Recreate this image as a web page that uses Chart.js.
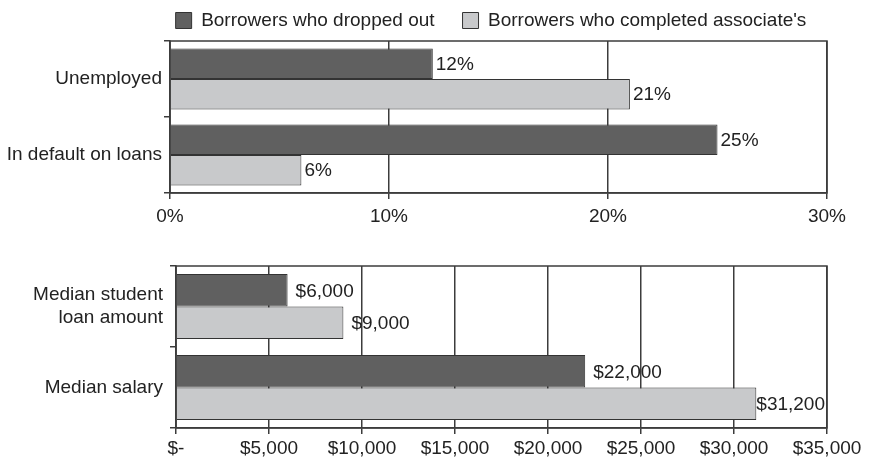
<!DOCTYPE html>
<html><head><meta charset="utf-8">
<script src="https://cdn.jsdelivr.net/npm/chart.js@4"></script>
<style>
html,body{margin:0;padding:0;background:#fff;width:870px;height:458px;overflow:hidden}
.box{position:absolute;left:0;width:870px}
</style>
</head><body>
<div class="box" style="top:0;height:230px"><canvas id="c1"></canvas></div>
<div class="box" style="top:240px;height:218px"><canvas id="c2"></canvas></div>
<script>
// ---- data ----
const seriesNames = ['Borrowers who dropped out', "Borrowers who completed associate's"];
const pctCategories = ['Unemployed', 'In default on loans'];
const pctDropped = [12, 25];
const pctCompleted = [21, 6];
const pctTicks = ['0%', '10%', '20%', '30%'];
const usdCategories = [['Median student', 'loan amount'], 'Median salary'];
const usdDropped = [6000, 22000];
const usdCompleted = [9000, 31200];
const usdTicks = ['$-', '$5,000', '$10,000', '$15,000', '$20,000', '$25,000', '$30,000', '$35,000'];

// ---- styles ----
const DARK = '#606060', LIGHT = '#c8c9cb', EDGE = '#333333', LINE = '#3c3c3c', TXT = '#222222';
Chart.defaults.font.family = '"Liberation Sans", Arial, sans-serif';
Chart.defaults.font.size = 19;
Chart.defaults.color = TXT;

const legendFix = {
  id: 'legendFix',
  beforeLayout(chart, args, opts) {
    const lg = chart.legend;
    if (lg && !lg._patched && opts.height) {
      const orig = lg.fit;
      lg.fit = function () {
        const mw = this.maxWidth;
        this.maxWidth = 5000;
        orig.call(this);
        this.maxWidth = mw;
        this.width = mw;
        this.height = opts.height;
      };
      lg._patched = true;
    }
  },
  afterLayout(chart, args, opts) {
    const lg = chart.legend;
    if (lg && opts.height) {
      lg.left = opts.left;
      lg.right = chart.width;
      lg.width = lg.right - lg.left;
    }
  }
};

const frame = {
  id: 'frame',
  afterDatasetsDraw(chart) {
    const a = chart.chartArea, ctx = chart.ctx;
    ctx.save();
    ctx.strokeStyle = LINE; ctx.lineWidth = 1.5;
    ctx.strokeRect(a.left, a.top, a.right - a.left, a.bottom - a.top);
    ctx.restore();
  }
};

const barLabels = {
  id: 'barLabels',
  afterDraw(chart, args, opts) {
    const ctx = chart.ctx, a = chart.chartArea;
    ctx.save();
    ctx.font = Chart.helpers.toFont(Chart.defaults.font).string;
    ctx.fillStyle = TXT;
    ctx.textAlign = 'left';
    ctx.textBaseline = 'middle';
    chart.data.datasets.forEach((ds, di) => {
      chart.getDatasetMeta(di).data.forEach((el, i) => {
        const t = opts.format(ds.data[i]);
        const w = ctx.measureText(t).width;
        let x = el.x + opts.offset;
        if (x + w > a.right - 2) x = a.right - 2 - w;
        ctx.fillText(t, x, el.y + 1);
      });
    });
    ctx.restore();
  }
};

function makeChart(id, cats, d1, d2, max, step, ticks, fmt, cfg) {
  return new Chart(document.getElementById(id), {
    type: 'bar',
    data: {
      labels: cats,
      datasets: [
        { label: seriesNames[0], data: d1, backgroundColor: DARK, borderColor: EDGE, borderWidth: 1 },
        { label: seriesNames[1], data: d2, backgroundColor: LIGHT, borderColor: EDGE, borderWidth: 1 }
      ]
    },
    options: {
      indexAxis: 'y',
      responsive: true,
      maintainAspectRatio: false,
      animation: false,
      layout: { padding: cfg.padding },
      categoryPercentage: 0.8,
      barPercentage: 1.0,
      plugins: {
        legend: cfg.legend ? {
          display: true, position: 'top', fullSize: false,
          labels: { boxWidth: 16, boxHeight: 16, padding: 28, color: TXT }
        } : { display: false },
        legendFix: { height: cfg.legend ? 58 : 0, left: 112 },
        tooltip: { enabled: false },
        barLabels: { offset: cfg.labelOffset, format: fmt }
      },
      scales: {
        x: {
          min: 0, max: max,
          ticks: { stepSize: step, padding: cfg.xPad, maxRotation: 0, autoSkip: false,
                   callback: (v, i) => ticks[i] },
          grid: { color: LINE, lineWidth: 1.5, tickLength: 6, drawTicks: true },
          border: { color: LINE, width: 1.5 },
          afterFit: s => { s.height = cfg.xHeight; }
        },
        y: {
          ticks: { padding: cfg.yPad },
          grid: { offset: true, drawOnChartArea: false, color: LINE, lineWidth: 1.5, tickLength: 6 },
          border: { color: LINE, width: 1.5 },
          afterFit: s => { s.width = cfg.yWidth; }
        }
      }
    },
    plugins: [legendFix, frame, barLabels]
  });
}

makeChart('c1', pctCategories, pctDropped, pctCompleted, 30, 10, pctTicks, v => v + '%',
  { legend: true, padding: { top: -17, right: 43, left: 0, bottom: 0 },
    xHeight: 37, yWidth: 170, xPad: 6, yPad: 2, labelOffset: 3 });

makeChart('c2', usdCategories, usdDropped, usdCompleted, 35000, 5000, usdTicks,
  v => '$' + v.toLocaleString('en-US'),
  { legend: false, padding: { top: 26, right: 43, left: 0, bottom: 0 },
    xHeight: 30, yWidth: 176, xPad: 3, yPad: 7, labelOffset: 8 });
</script>
</body></html>
